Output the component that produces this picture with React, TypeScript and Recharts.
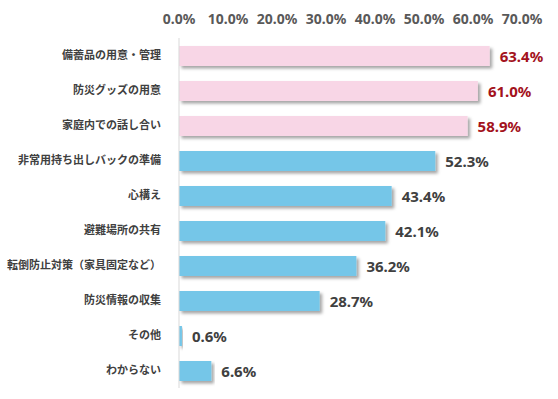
import { BarChart, Bar, XAxis, YAxis, Cell, LabelList } from "recharts";

const categories = [
  "備蓄品の用意・管理",
  "防災グッズの用意",
  "家庭内での話し合い",
  "非常用持ち出しバックの準備",
  "心構え",
  "避難場所の共有",
  "転倒防止対策（家具固定など）",
  "防災情報の収集",
  "その他",
  "わからない",
];
const values = [63.4, 61.0, 58.9, 52.3, 43.4, 42.1, 36.2, 28.7, 0.6, 6.6];
const highlighted = [true, true, true, false, false, false, false, false, false, false];
const xTicks = [0, 10, 20, 30, 40, 50, 60, 70];

const PINK = "#f8d6e6";
const BLUE = "#74c6e8";
const RED_TEXT = "#a3121c";
const GREY_TEXT = "#404040";
const NUM_FONT = "'Noto Sans', 'DejaVu Sans', sans-serif";
const JP_FONT = "'Noto Sans CJK JP', sans-serif";

const data = categories.map((name, i) => ({
  name,
  value: values[i],
  hot: highlighted[i],
}));

function ShadowBar(props: any) {
  const { x, y, width, height, fill } = props;
  if (width <= 0) return null;
  return <rect x={x} y={y} width={width} height={height} fill={fill} filter="url(#barShadow)" />;
}

function ValueLabel(props: any) {
  const { x, y, width, height, index } = props;
  const d = data[index];
  return (
    <text
      x={x + width + 10}
      y={y + height / 2}
      dominantBaseline="central"
      fill={d.hot ? RED_TEXT : GREY_TEXT}
      fontFamily={NUM_FONT}
      fontWeight={700}
      fontSize={15}
    >
      {d.value.toFixed(1)}%
    </text>
  );
}

export default function App() {
  return (
    <div style={{ position: "fixed", left: 0, top: 0, width: 558, height: 399, background: "#fff" }}>
      <BarChart
        width={558}
        height={399}
        data={data}
        layout="vertical"
        barSize={20}
        margin={{ top: 0, right: 36, bottom: 11, left: 0 }}
      >
        <defs>
          <filter id="barShadow" x="-5%" y="-20%" width="115%" height="170%">
            <feDropShadow dx={2.5} dy={2.5} stdDeviation={1.5} floodColor="#000" floodOpacity={0.35} />
          </filter>
        </defs>
        <XAxis
          type="number"
          orientation="top"
          domain={[0, 70]}
          ticks={xTicks}
          interval={0}
          height={38}
          axisLine={false}
          tickLine={false}
          tickFormatter={(v: number) => `${v.toFixed(1)}%`}
          tick={{ fill: "#595959", fontSize: 14, fontWeight: 700, fontFamily: NUM_FONT, dy: -6 }}
        />
        <YAxis
          type="category"
          dataKey="name"
          width={179}
          axisLine={{ stroke: "#d9d9d9" }}
          tickLine={false}
          tickMargin={12}
          interval={0}
          tick={{ fill: GREY_TEXT, fontSize: 11, fontWeight: 700, fontFamily: JP_FONT }}
        />
        <Bar dataKey="value" isAnimationActive={false} shape={<ShadowBar />}>
          {data.map((d, i) => (
            <Cell key={i} fill={d.hot ? PINK : BLUE} />
          ))}
          <LabelList dataKey="value" content={<ValueLabel />} />
        </Bar>
      </BarChart>
    </div>
  );
}
